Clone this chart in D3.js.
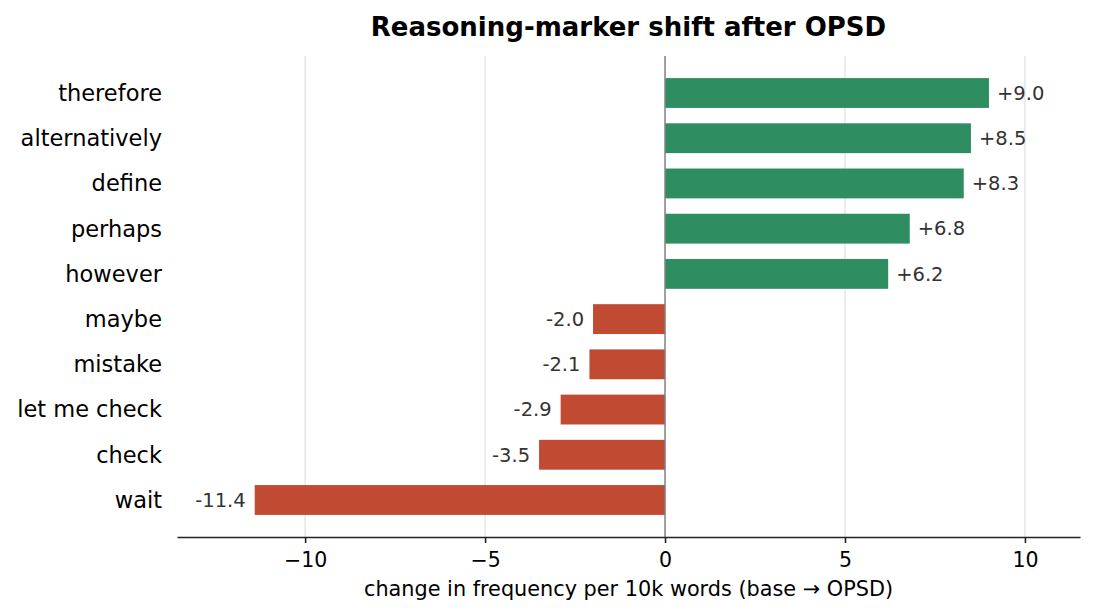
<!DOCTYPE html>
<html>
<head>
<meta charset="utf-8">
<script src="https://cdn.jsdelivr.net/npm/d3@7"></script>
<style>
    body { margin: 0; background: #fff; }
    svg { display: block; font-family: "DejaVu Sans", sans-serif; }
</style>
</head>
<body>
<div id="chart"></div>
<script>
const markers = ["therefore", "alternatively", "define", "perhaps", "however",
    "maybe", "mistake", "let me check", "check", "wait"];
const shifts = [9.0, 8.5, 8.3, 6.8, 6.2, -2.0, -2.1, -2.9, -3.5, -11.4];
const xTicks = [-10, -5, 0, 5, 10];

const data = markers.map((m, i) => ({marker: m, val: shifts[i]}));

const dims = {width: 1095, height: 615};
const plot = {left: 177, right: 1080, top: 56, bottom: 537};

const svg = d3.select("#chart")
    .append("svg")
    .attr("width", dims.width)
    .attr("height", dims.height);

const xScale = d3.scaleLinear()
    .domain([-13.56, 11.53])
    .range([plot.left, plot.right]);

const yScale = d3.scaleBand()
    .domain(markers)
    .range([70.4, 522.6])
    .paddingInner(0.34)
    .paddingOuter(0.17);

// grid
svg.append("g")
    .selectAll("line")
    .data(xTicks.filter(t => t !== 0))
    .join("line")
    .attr("x1", d => xScale(d))
    .attr("x2", d => xScale(d))
    .attr("y1", plot.top)
    .attr("y2", plot.bottom)
    .attr("stroke", "#e6e6e6")
    .attr("stroke-width", 1.5);

// bars
svg.append("g")
    .selectAll("rect")
    .data(data)
    .join("rect")
    .attr("x", d => xScale(Math.min(0, d.val)))
    .attr("width", d => Math.abs(xScale(d.val) - xScale(0)))
    .attr("y", d => yScale(d.marker))
    .attr("height", yScale.bandwidth())
    .attr("fill", d => d.val >= 0 ? "#2e8e62" : "#c04a32");

// zero line
svg.append("line")
    .attr("x1", xScale(0))
    .attr("x2", xScale(0))
    .attr("y1", plot.top)
    .attr("y2", plot.bottom)
    .attr("stroke", "#808080")
    .attr("stroke-width", 1.5);

// value labels
svg.append("g")
    .selectAll("text")
    .data(data)
    .join("text")
    .attr("x", d => d.val >= 0 ? xScale(d.val) + 8 : xScale(d.val) - 9)
    .attr("y", d => yScale(d.marker) + yScale.bandwidth() / 2)
    .attr("dy", "0.35em")
    .attr("text-anchor", d => d.val >= 0 ? "start" : "end")
    .attr("font-size", 19.5)
    .attr("fill", "#333")
    .text(d => (d.val >= 0 ? "+" : "") + d.val.toFixed(1));

// y labels
svg.append("g")
    .selectAll("text")
    .data(markers)
    .join("text")
    .attr("x", 162)
    .attr("y", d => yScale(d) + yScale.bandwidth() / 2)
    .attr("dy", "0.35em")
    .attr("text-anchor", "end")
    .attr("font-size", 22.5)
    .attr("fill", "#000")
    .text(d => d);

// x axis
const xAxis = svg.append("g")
    .attr("transform", `translate(0,${plot.bottom})`)
    .call(d3.axisBottom(xScale).tickValues(xTicks).tickSizeInner(6).tickSizeOuter(0).tickPadding(9)
        .tickFormat(d => d < 0 ? "\u2212" + Math.abs(d) : d));
xAxis.select(".domain").attr("stroke", "#222").attr("stroke-width", 1.6);
xAxis.selectAll(".tick line").attr("stroke", "#222").attr("stroke-width", 1.6);
xAxis.selectAll(".tick text")
    .attr("font-family", "DejaVu Sans, sans-serif")
    .attr("font-size", 20.5)
    .attr("fill", "#000");

svg.append("text")
    .attr("x", (plot.left + plot.right) / 2)
    .attr("y", 596)
    .attr("text-anchor", "middle")
    .attr("font-size", 20.8)
    .text("change in frequency per 10k words (base \u2192 OPSD)");

svg.append("text")
    .attr("x", (plot.left + plot.right) / 2)
    .attr("y", 36)
    .attr("text-anchor", "middle")
    .attr("font-size", 26)
    .attr("font-weight", "bold")
    .text("Reasoning-marker shift after OPSD");
</script>
</body>
</html>
